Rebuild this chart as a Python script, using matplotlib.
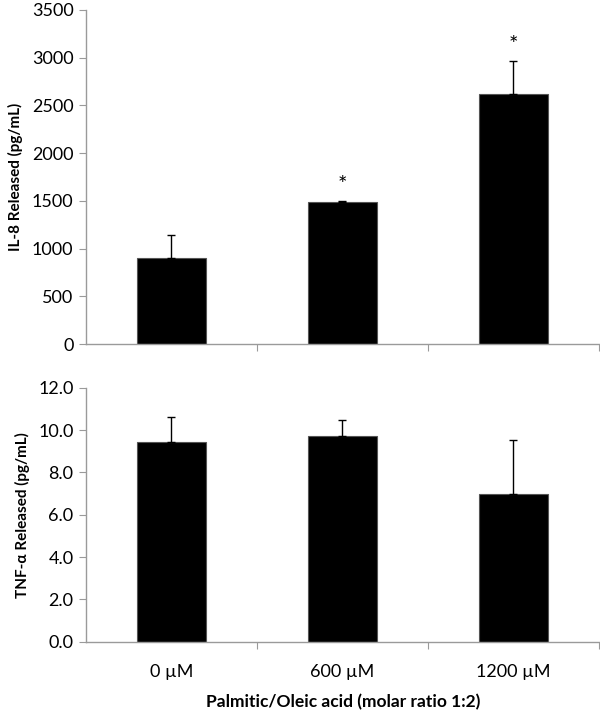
import matplotlib
matplotlib.use("Agg")
import matplotlib.pyplot as plt
import numpy as np

plt.rcParams['font.family'] = ['Lato', 'DejaVu Sans']

categories = ['0 \u00b5M', '600 \u00b5M', '1200 \u00b5M']
il8_mean = [901, 1488, 2623]
il8_err = [241, 14, 346]
il8_sig = ['', '*', '*']
tnf_mean = [9.45, 9.72, 6.96]
tnf_err = [1.15, 0.75, 2.57]
xlabel = 'Palmitic/Oleic acid (molar ratio 1:2)'
il8_ylabel = 'IL-8 Released (pg/mL)'
tnf_ylabel = 'TNF-\u03b1 Released (pg/mL)'

axis_gray = '#9a9a9a'

fig = plt.figure(figsize=(6.0, 7.14), dpi=100)
ax1 = fig.add_axes([0.1433, 0.518, 0.855, 0.468])
ax2 = fig.add_axes([0.1433, 0.1013, 0.855, 0.3557])

x = np.arange(len(categories))

def style(ax):
    for s in ['top', 'right']:
        ax.spines[s].set_visible(False)
    for s in ['left', 'bottom']:
        ax.spines[s].set_color(axis_gray)
        ax.spines[s].set_linewidth(1.0)
    ax.set_xlim(-0.5, len(categories) - 0.5)
    ax.set_xticks(np.arange(len(categories)) + 0.5)
    ax.set_xticklabels([])
    ax.tick_params(axis='x', which='major', direction='out', length=5, color=axis_gray)
    ax.tick_params(axis='y', direction='out', length=5, color=axis_gray, labelsize=13, pad=4)

# Top panel
ax1.bar(x, il8_mean, width=0.4, color='black', edgecolor='#555555', linewidth=0.8, zorder=2)
ax1.errorbar(x, il8_mean, yerr=[np.zeros(len(il8_err)), il8_err], fmt='none',
             ecolor='black', elinewidth=1.0, capsize=3, capthick=1.0, zorder=3)
style(ax1)
ax1.set_ylim(0, 3500)
ax1.set_yticks(np.arange(0, 3501, 500))
ax1.set_yticklabels([str(v) for v in range(0, 3501, 500)])
for xi, m, e, s in zip(x, il8_mean, il8_err, il8_sig):
    if s:
        ax1.annotate(s, (xi, m + e), xytext=(0, 4), textcoords='offset points',
                     ha='center', va='bottom', fontsize=16)
ax1.set_ylabel(il8_ylabel, fontsize=11, fontweight='bold', labelpad=6)

# Bottom panel
ax2.bar(x, tnf_mean, width=0.4, color='black', edgecolor='#555555', linewidth=0.8, zorder=2)
ax2.errorbar(x, tnf_mean, yerr=[np.zeros(len(tnf_err)), tnf_err], fmt='none',
             ecolor='black', elinewidth=1.0, capsize=3, capthick=1.0, zorder=3)
style(ax2)
ax2.set_ylim(0, 12)
ax2.set_yticks(np.arange(0, 12.01, 2))
ax2.set_yticklabels([f'{v:.1f}' for v in np.arange(0, 12.01, 2)])
ax2.set_xticks(x, minor=True)
ax2.set_xticklabels(categories, minor=True, fontsize=13)
ax2.tick_params(axis='x', which='minor', length=0, pad=16)
ax2.set_ylabel(tnf_ylabel, fontsize=11, fontweight='bold', labelpad=6)
fig.text(0.5716, 0.016, xlabel, ha='center', va='center', fontsize=12.5, fontweight='bold')

fig.savefig('out.png', dpi=100)
